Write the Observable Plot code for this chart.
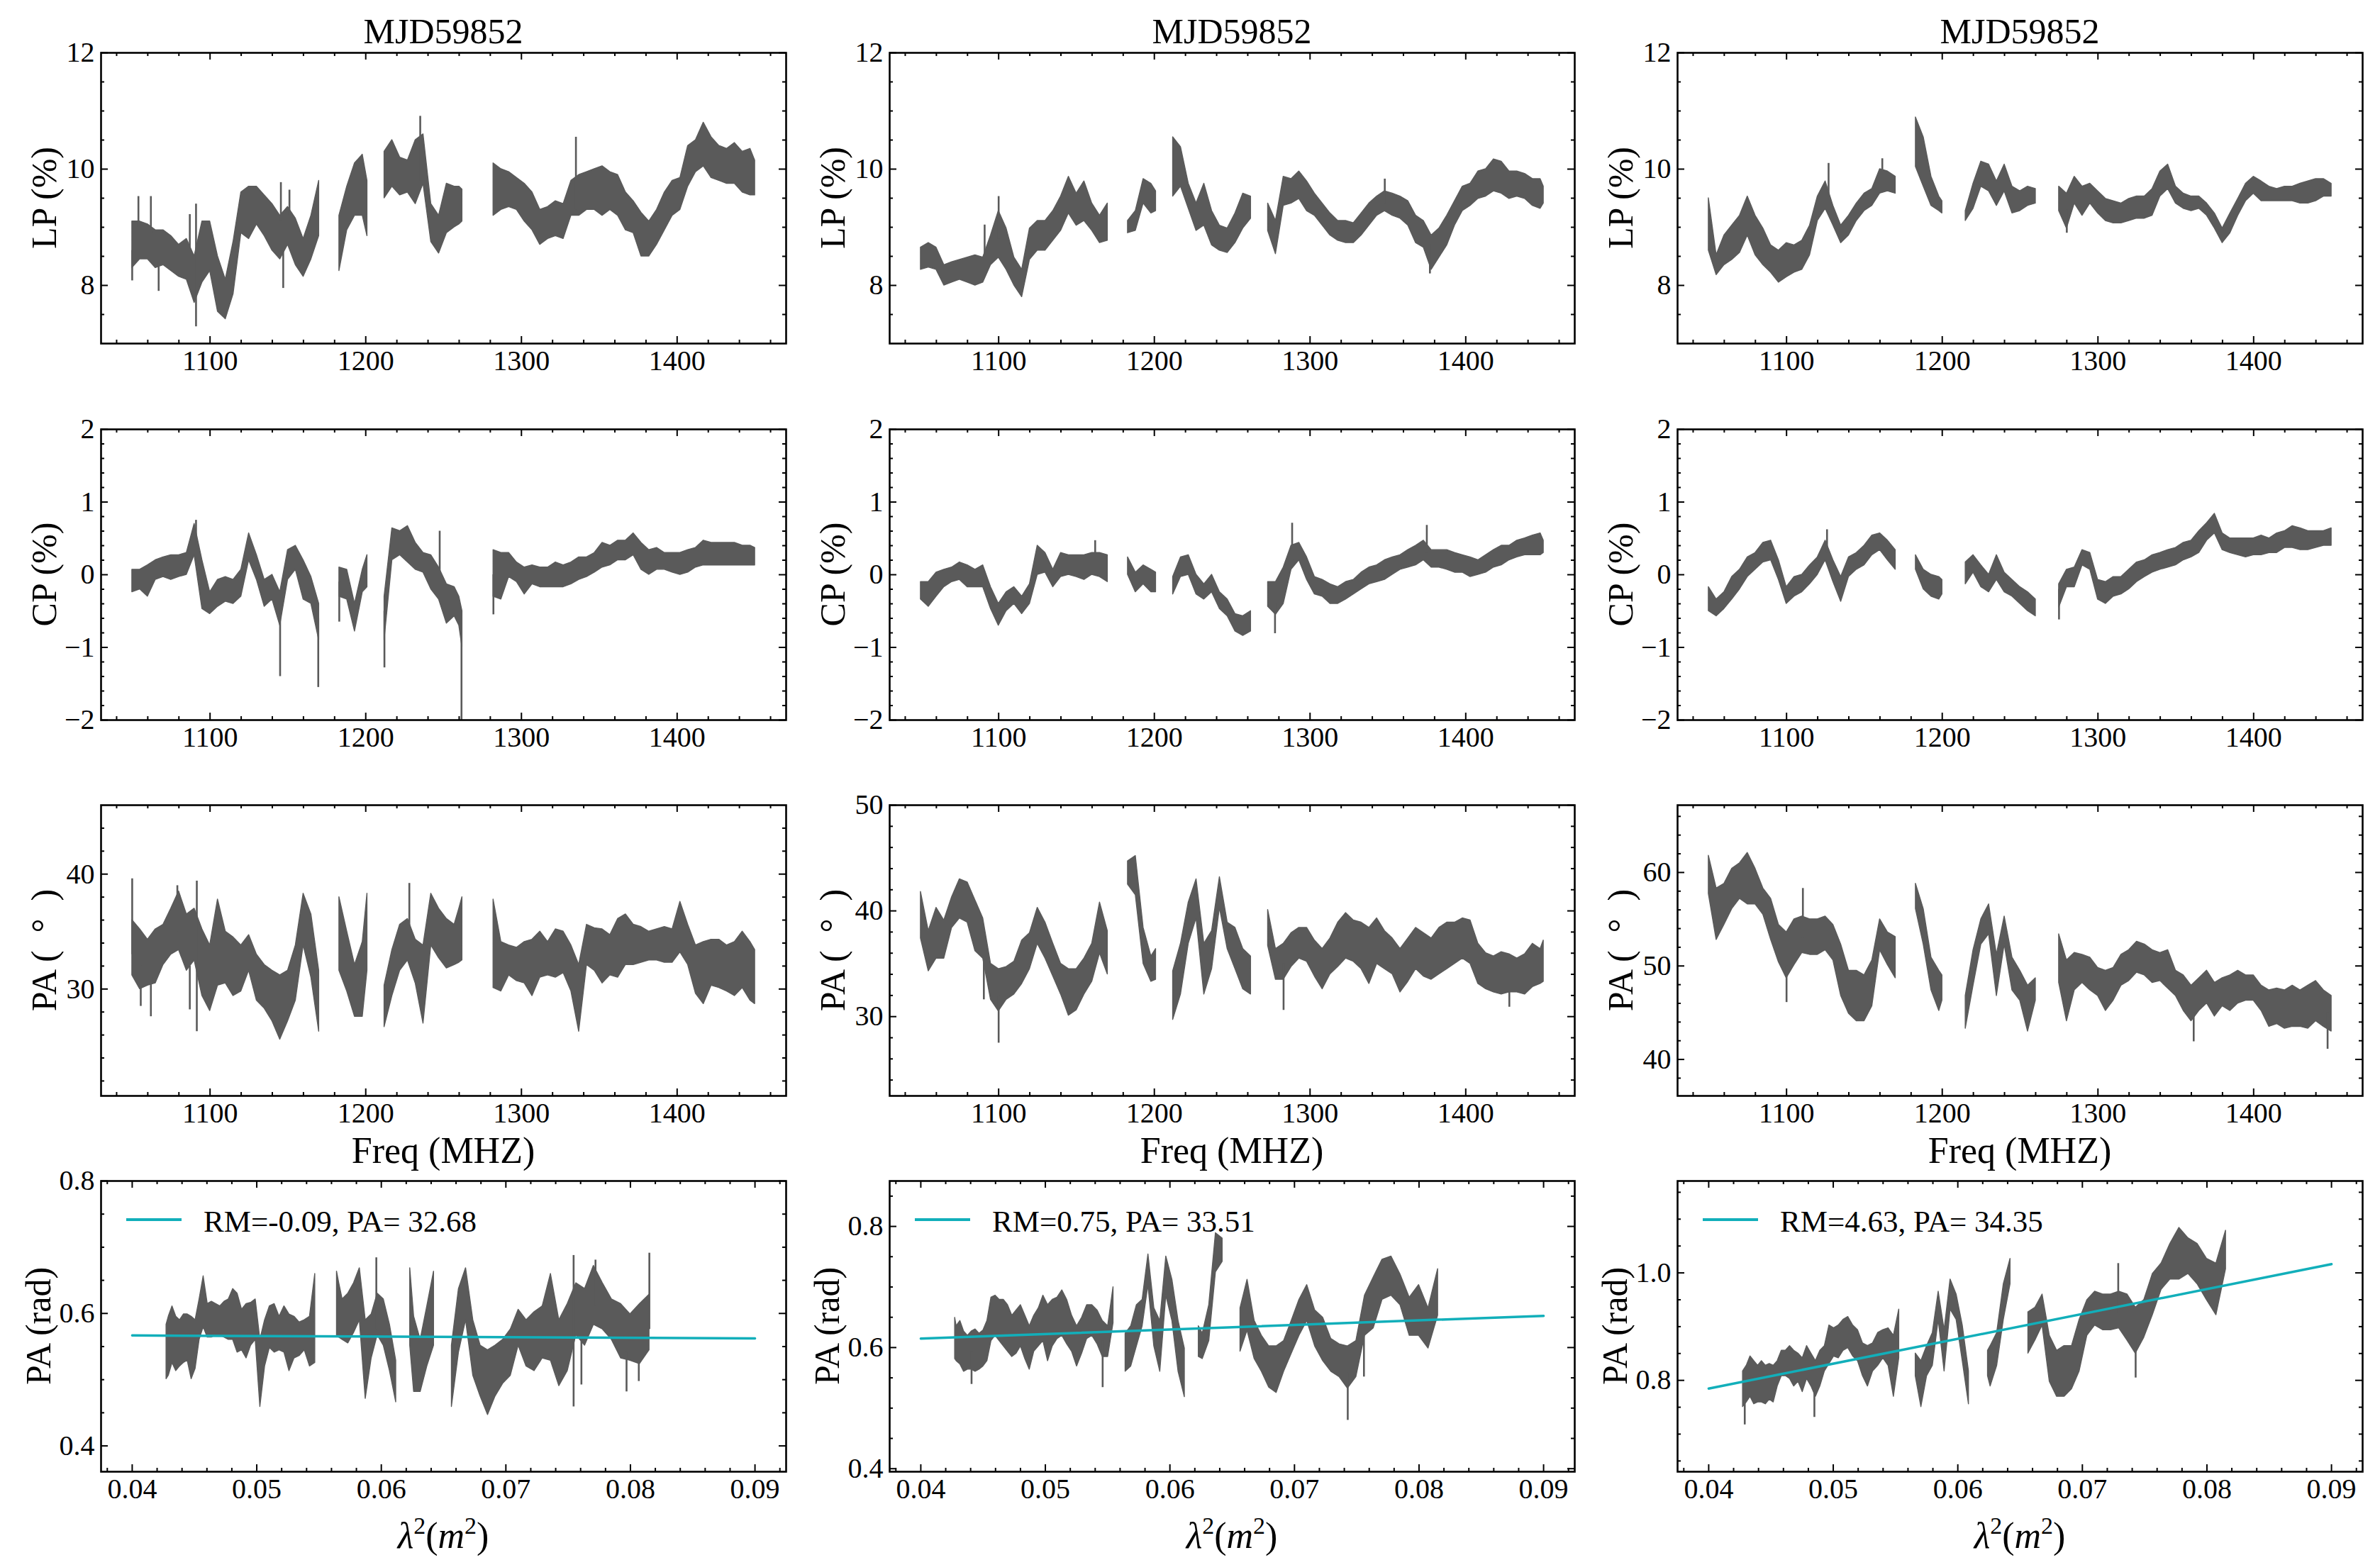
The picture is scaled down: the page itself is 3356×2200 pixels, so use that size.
<!DOCTYPE html>
<html><head><meta charset="utf-8">
<script src="https://cdn.jsdelivr.net/npm/d3@7"></script>
<script src="https://cdn.jsdelivr.net/npm/@observablehq/plot@0.6"></script>
<style>
html,body{margin:0;padding:0;background:#fff;}
#fig{position:relative;width:3356px;height:2200px;background:#fff;font-family:"Liberation Serif","DejaVu Serif","Times New Roman",serif;color:#000;overflow:hidden;}
.txt{position:absolute;white-space:nowrap;line-height:1;}
</style></head><body><div id="fig"></div>
<script>
// ---------------- DATA ----------------
const title = "MJD59852";
const fitRM = [-0.09, 0.75, 4.63];
const fitPAdeg = [32.68, 33.51, 34.35];
const fitLam2 = [0.04, 0.09];

// Column 1
const freqCol1 = [1050,1055,1060,1065,1070,1075,1080,1085,1090,1095,1100,1105,1110,1115,1120,1125,1130,1135,1140,1145,1150,1155,1160,1165,1170,
  1183,1188,1193,1198,1201,
  1212,1217,1222,1227,1232,1237,1242,1247,1252,1257,1260,1262,
  1282,1287,1292,1297,1302,1307,1312,1317,1322,1327,1332,1337,1342,1347,1352,1357,1362,1367,1372,1377,1382,1387,1392,1397,1402,1407,1412,1417,1422,1427,1432,1437,1442,1447,1450];
const lpLoCol1 = [8.3,8.45,8.45,8.3,8.35,8.25,8.15,8.1,7.7,8.05,8.25,7.55,7.42,7.85,8.9,8.8,9.05,8.85,8.6,8.45,8.7,8.35,8.15,8.45,8.85,
  8.25,8.95,9.2,9.2,8.85,
  9.5,9.7,9.55,9.6,9.4,9.75,8.75,8.55,8.9,9.0,9.05,9.1,
  9.2,9.3,9.35,9.3,9.1,8.95,8.7,8.8,8.85,8.8,9.2,9.2,9.3,9.3,9.2,9.3,9.2,8.95,8.9,8.5,8.5,8.7,8.95,9.2,9.3,9.7,9.95,10.05,9.85,9.8,9.75,9.75,9.6,9.55,9.55];
const lpHiCol1 = [9.1,9.1,9.05,8.95,8.95,8.85,8.7,8.8,8.5,9.1,9.1,8.5,8.1,8.75,9.6,9.7,9.7,9.55,9.4,9.2,9.35,9.15,8.8,9.2,9.8,
  9.2,9.7,10.1,10.25,9.8,
  10.3,10.5,10.2,10.15,10.5,10.6,9.4,9.2,9.75,9.7,9.7,9.65,
  10.1,10.0,9.95,9.85,9.75,9.6,9.3,9.35,9.45,9.4,9.8,9.9,9.95,10.0,10.05,9.95,9.9,9.6,9.45,9.25,9.1,9.3,9.6,9.8,9.85,10.4,10.5,10.8,10.55,10.4,10.35,10.45,10.3,10.35,10.15];
const lpSpikeFCol1 = [1050,1054,1062,1067,1087,1091,1145.5,1147,1151,1235,1335];
const lpSpikeLoCol1 = [8.08,9.0,8.9,7.9,8.6,7.29,9.1,7.95,9.2,9.8,9.3];
const lpSpikeHiCol1 = [8.6,9.53,9.53,8.4,9.22,9.4,9.77,8.6,9.64,10.91,10.55];

const cpLoCol1 = [-0.24,-0.2,-0.3,-0.07,-0.03,-0.07,-0.03,0.0,0.27,-0.47,-0.54,-0.44,-0.37,-0.4,-0.3,0.2,-0.07,-0.44,-0.34,-0.7,-0.07,0.07,-0.34,-0.4,-0.9,
  -0.3,-0.34,-0.78,-0.24,-0.17,
  -0.9,0.2,0.27,0.17,0.07,0.03,-0.2,-0.34,-0.67,-0.57,-0.7,-1.0,
  -0.3,-0.34,-0.03,-0.1,-0.27,-0.13,-0.17,-0.17,-0.17,-0.17,-0.13,-0.07,-0.03,0.03,0.1,0.13,0.2,0.2,0.27,0.07,0.0,0.07,0.07,0.03,0.0,0.03,0.1,0.13,0.13,0.13,0.13,0.13,0.13,0.13,0.13];
const cpHiCol1 = [0.07,0.07,0.13,0.2,0.24,0.27,0.27,0.3,0.7,0.2,-0.24,-0.07,-0.03,-0.07,0.07,0.57,0.27,-0.07,0.0,-0.24,0.34,0.4,0.2,-0.03,-0.4,
  0.1,0.07,-0.4,0.07,0.27,
  -0.3,0.64,0.6,0.67,0.44,0.3,0.27,0.1,-0.13,-0.17,-0.3,-0.5,
  0.34,0.3,0.3,0.17,0.1,0.13,0.1,0.1,0.17,0.13,0.17,0.24,0.24,0.3,0.44,0.4,0.47,0.47,0.57,0.44,0.34,0.37,0.3,0.3,0.3,0.34,0.37,0.47,0.44,0.44,0.44,0.44,0.4,0.4,0.37];
const cpSpikeFCol1 = [1091,1145,1169.5,1183,1212,1247.5,1261.5,1282];
const cpSpikeLoCol1 = [0.4,-1.4,-1.55,-0.65,-1.28,0.0,-2.0,-0.55];
const cpSpikeHiCol1 = [0.75,-0.5,-0.6,-0.1,-0.5,0.6,-0.5,0.0];

const paLoCol1 = [31.2,30,30.3,30.5,32.1,33.0,33.4,31.6,32.5,29.4,28.1,30.3,30.5,29.4,29.8,31.6,29.0,28.3,27.2,25.6,27.2,29.0,33.8,31.0,26.3,
  31.6,29.8,27.6,27.6,31.6,
  26.7,29.4,31.6,32.5,30.5,27.0,33.8,32.7,31.8,32.1,32.3,32.5,
  30.1,29.8,31.2,30.7,30.5,29.4,31.0,31.2,31.0,31.4,29.8,26.3,32.1,31.6,30.5,31.2,31.0,32.1,32.1,32.3,32.5,32.5,32.3,32.3,33.2,32.1,29.6,28.7,30.3,30.1,29.8,29.4,30.1,29.0,28.7];
const paHiCol1 = [36.0,35.2,34.3,35.2,35.6,37.0,38.5,36.5,37.0,35.2,33.8,37.8,35.0,34.5,33.8,34.7,33.0,32.1,31.6,31.2,31.6,33.8,38.3,36.5,31.6,
  38.0,35.0,32.1,34.1,38.3,
  30.3,33.4,35.6,36.1,34.3,33.8,38.3,37.0,36.1,35.6,37.0,38.0,
  37.8,34.1,33.8,33.6,34.1,34.3,35.0,34.1,35.2,35.0,33.8,32.1,35.6,35.3,35.2,34.7,36.1,36.5,35.6,35.4,35.0,35.2,35.4,35.2,37.6,35.6,33.8,34.1,34.3,34.3,33.8,34.1,35.0,34.1,33.4];
const paSpikeFCol1 = [1050,1055.5,1062,1079,1087,1091.5,1228];
const paSpikeLoCol1 = [33,28.5,27.6,35,28.2,26.3,33];
const paSpikeHiCol1 = [39.6,32,31,39.0,32,39.4,39.2];

// Column 2
const freqCol2 = [1050,1055,1060,1065,1070,1075,1080,1085,1090,1095,1100,1105,1110,1115,1120,1125,1130,1135,1140,1145,1150,1155,1160,1165,1170,
  1183,1188,1193,1198,1201,
  1212,1217,1222,1227,1232,1237,1242,1247,1252,1257,1262,
  1273,1278,1283,1288,1293,1298,1303,1308,1313,1318,1323,1328,1333,1338,1343,1348,1353,1358,1363,1368,1373,1378,1383,1388,1393,1398,1403,1408,1413,1418,1423,1428,1433,1438,1443,1448,1450];
const lpLoCol2 = [8.27,8.31,8.27,8.0,8.05,8.1,8.05,8.0,8.05,8.35,8.48,8.27,8.0,7.8,8.44,8.6,8.6,8.77,8.94,9.24,9.03,9.11,8.94,8.73,8.77,
  8.9,8.94,9.41,9.24,9.28,
  9.53,9.7,9.32,8.94,9.03,8.69,8.6,8.56,8.73,8.98,9.15,
  8.94,8.54,9.37,9.41,9.49,9.28,9.2,9.03,8.86,8.77,8.73,8.73,8.86,9.03,9.2,9.28,9.2,9.15,9.03,8.73,8.65,8.27,8.48,8.69,9.03,9.28,9.37,9.49,9.53,9.62,9.58,9.49,9.53,9.49,9.37,9.32,9.41];
const lpHiCol2 = [8.65,8.73,8.65,8.35,8.4,8.44,8.48,8.52,8.48,8.86,9.28,8.98,8.48,8.27,8.98,9.11,9.11,9.28,9.53,9.87,9.58,9.79,9.41,9.2,9.41,
  9.11,9.28,9.83,9.75,9.62,
  10.55,10.38,9.75,9.41,9.75,9.28,9.03,8.98,9.24,9.58,9.53,
  9.41,9.11,9.87,9.83,9.96,9.79,9.58,9.41,9.24,9.11,9.11,9.07,9.24,9.41,9.53,9.62,9.58,9.53,9.45,9.2,9.11,8.86,8.98,9.2,9.45,9.7,9.75,9.96,10.0,10.17,10.13,9.96,9.96,9.92,9.83,9.83,9.7];
const lpSpikeFCol2 = [1091,1100,1348,1377];
const lpSpikeLoCol2 = [8.2,8.8,9.4,8.2];
const lpSpikeHiCol2 = [9.04,9.53,9.83,8.7];

const cpLoCol2 = [-0.34,-0.44,-0.3,-0.17,-0.1,-0.07,-0.17,-0.17,-0.17,-0.47,-0.7,-0.5,-0.4,-0.54,-0.4,0.0,0.03,-0.17,-0.03,0.0,-0.03,-0.07,0.0,-0.03,-0.1,
  0.0,-0.24,-0.13,-0.24,-0.24,
  -0.27,-0.03,0.0,-0.27,-0.34,-0.24,-0.47,-0.57,-0.78,-0.84,-0.78,
  -0.44,-0.55,-0.4,0.07,0.2,-0.07,-0.27,-0.3,-0.4,-0.4,-0.34,-0.27,-0.2,-0.13,-0.1,-0.07,0.0,0.07,0.1,0.13,0.2,0.1,0.1,0.07,0.03,0.03,-0.03,0.0,0.03,0.1,0.13,0.2,0.24,0.27,0.27,0.27,0.3];
const cpHiCol2 = [-0.1,-0.1,0.03,0.07,0.1,0.17,0.13,0.07,0.13,-0.17,-0.4,-0.24,-0.17,-0.3,-0.13,0.4,0.3,0.07,0.3,0.27,0.27,0.27,0.3,0.3,0.27,
  0.24,0.03,0.13,0.07,0.03,
  -0.03,0.24,0.27,0.0,-0.13,0.0,-0.24,-0.34,-0.54,-0.57,-0.5,
  -0.1,-0.1,0.1,0.4,0.44,0.24,-0.03,-0.07,-0.13,-0.17,-0.1,-0.07,0.03,0.1,0.13,0.2,0.24,0.27,0.34,0.4,0.47,0.34,0.34,0.34,0.3,0.27,0.24,0.2,0.27,0.34,0.4,0.4,0.47,0.5,0.54,0.57,0.47];
const cpSpikeFCol2 = [1162,1277.5,1288.5,1375];
const cpSpikeLoCol2 = [0.1,-0.81,0.2,0.3];
const cpSpikeHiCol2 = [0.47,-0.4,0.71,0.68];

const paLoCol2 = [37.4,34.3,35.5,35.5,38.4,39.3,38.9,36.2,35.5,31.6,30.5,31.6,32.1,33.1,34.5,36.9,35.5,33.8,32.1,30.1,30.6,32.1,33.3,36.0,34.0,
  42.5,41.5,35.0,33.3,33.5,
  29.7,32.1,36.9,39.3,32.1,34.5,40.3,36.4,34.5,32.6,32.1,
  36.7,33.5,33.5,34.7,35.5,35.2,33.8,32.6,34.0,34.7,35.5,35.2,34.5,33.1,35.0,34.5,34.0,32.3,33.3,34.5,33.8,33.5,34.0,34.5,35.0,35.5,35.0,33.1,32.6,32.3,32.1,32.3,32.3,32.1,32.8,33.1,33.3];
const paHiCol2 = [41.8,38.1,40.3,39.1,41.3,43.0,42.7,41.0,39.3,35.0,34.5,34.7,35.2,37.2,37.9,40.3,38.9,36.9,35.0,34.5,34.5,35.5,36.9,40.8,38.1,
  44.7,45.2,38.4,35.7,36.4,
  34.3,36.9,40.8,43.0,36.9,38.1,43.2,38.9,38.4,36.4,35.7,
  40.1,36.4,36.9,37.9,38.4,38.4,37.2,36.4,37.4,38.9,39.8,39.1,38.9,38.4,39.3,38.1,37.4,36.4,37.4,38.4,37.9,37.4,38.4,38.9,38.9,39.3,39.1,36.9,36.0,35.7,36.1,35.9,35.5,35.9,36.9,36.4,37.2];
const paSpikeFCol2 = [1090.5,1100,1283,1428];
const paSpikeLoCol2 = [31.6,27.5,30.6,30.9];
const paSpikeHiCol2 = [38,32,35,34];

// Column 3
const freqCol3 = [1050,1055,1060,1065,1070,1075,1080,1085,1090,1095,1100,1105,1110,1115,1120,1125,1130,1135,1140,1145,1150,1155,1160,1165,1170,
  1183,1188,1193,1198,1200,
  1215,1220,1225,1230,1235,1240,1245,1250,1255,1260,
  1275,1280,1285,1290,1295,1300,1305,1310,1315,1320,1325,1330,1335,1340,1345,1350,1355,1360,1365,1370,1375,1380,1385,1390,1395,1400,1405,1410,1415,1420,1425,1430,1435,1440,1445,1450];
const lpLoCol3 = [8.6,8.18,8.35,8.44,8.56,8.86,8.52,8.35,8.22,8.05,8.14,8.22,8.27,8.52,9.11,9.32,9.03,8.73,8.86,9.11,9.28,9.37,9.58,9.62,9.58,
  10.04,9.7,9.37,9.28,9.24,
  9.11,9.32,9.7,9.62,9.37,9.62,9.24,9.28,9.37,9.41,
  9.28,8.98,9.41,9.2,9.41,9.24,9.11,9.07,9.07,9.11,9.15,9.15,9.2,9.53,9.66,9.41,9.32,9.28,9.32,9.2,8.98,8.73,8.9,9.2,9.45,9.58,9.45,9.45,9.45,9.45,9.45,9.41,9.41,9.45,9.53,9.53];
const lpHiCol3 = [9.5,8.52,8.86,9.03,9.2,9.53,9.2,8.98,8.69,8.6,8.73,8.69,8.77,9.03,9.53,9.79,9.37,9.03,9.2,9.41,9.58,9.66,10.0,9.96,9.87,
  10.89,10.55,9.87,9.53,9.45,
  9.28,9.75,10.13,10.08,9.79,10.08,9.7,9.62,9.7,9.66,
  9.7,9.58,9.87,9.7,9.75,9.62,9.49,9.45,9.41,9.49,9.53,9.53,9.66,9.96,10.08,9.7,9.58,9.53,9.53,9.41,9.24,8.98,9.24,9.49,9.75,9.87,9.79,9.7,9.66,9.7,9.7,9.75,9.79,9.83,9.83,9.75];
const lpSpikeFCol3 = [1127,1161.5,1280];
const lpSpikeLoCol3 = [9.5,9.7,8.9];
const lpSpikeHiCol3 = [10.1,10.18,9.3];

const cpLoCol3 = [-0.5,-0.57,-0.47,-0.34,-0.2,-0.03,0.07,0.17,0.2,-0.07,-0.4,-0.3,-0.24,-0.13,0.0,0.2,-0.1,-0.37,-0.03,0.07,0.13,0.27,0.34,0.2,0.07,
  0.07,-0.2,-0.3,-0.34,-0.27,
  -0.13,0.03,-0.17,-0.24,-0.07,-0.24,-0.3,-0.4,-0.5,-0.57,
  -0.45,-0.17,-0.17,0.13,0.07,-0.34,-0.4,-0.3,-0.27,-0.2,-0.1,-0.03,0.03,0.07,0.1,0.13,0.2,0.24,0.3,0.47,0.57,0.34,0.3,0.27,0.24,0.27,0.27,0.3,0.3,0.37,0.37,0.34,0.34,0.37,0.4,0.4];
const cpHiCol3 = [-0.17,-0.34,-0.24,-0.03,0.07,0.24,0.3,0.44,0.47,0.2,-0.17,-0.03,0.0,0.13,0.24,0.47,0.2,-0.03,0.24,0.3,0.4,0.54,0.57,0.47,0.34,
  0.27,0.07,0.0,-0.03,-0.07,
  0.17,0.27,0.13,0.0,0.27,0.03,-0.07,-0.17,-0.24,-0.34,
  -0.13,0.07,0.1,0.34,0.3,-0.07,-0.1,-0.03,-0.03,0.07,0.17,0.2,0.27,0.3,0.34,0.37,0.44,0.47,0.6,0.71,0.84,0.57,0.5,0.5,0.5,0.5,0.54,0.5,0.57,0.6,0.67,0.64,0.6,0.6,0.6,0.64];
const cpSpikeFCol3 = [1126,1275];
const cpSpikeLoCol3 = [0.3,-0.62];
const cpSpikeHiCol3 = [0.62,-0.2];

const paLoCol3 = [57.7,52.8,54.4,56.1,57.2,56.6,56.6,55.5,52.8,50.4,48.7,50.1,51.4,51.2,51.2,51.7,50.6,46.8,44.9,44.1,44.1,45.7,51.7,50.1,48.7,
  56.1,52.3,47.4,45.2,46.3,
  43.3,47.9,52.3,53.4,46.8,52.3,47.4,46.3,43.0,46.3,
  48.2,44.1,47.4,48.2,47.4,46.8,45.2,46.3,47.9,48.4,49.3,49.0,48.2,48.4,47.6,46.8,45.2,44.1,45.2,46.0,44.6,45.7,45.2,46.0,46.3,46.3,45.2,43.5,43.8,43.3,43.5,43.5,43.3,44.1,43.5,43.0];
const paHiCol3 = [61.8,58.3,58.8,60.4,61.0,62.1,60.4,58.3,57.2,54.4,53.6,55.0,55.3,55.0,55.0,55.3,54.4,52.3,49.5,49.5,49.0,50.6,55.0,53.6,53.1,
  58.8,56.1,50.9,49.5,49.0,
  46.8,51.7,55.0,56.6,51.2,55.3,50.9,49.5,47.9,48.7,
  53.4,50.6,51.4,51.2,50.9,49.8,49.5,49.8,51.2,51.7,52.6,52.3,51.7,51.4,51.7,49.5,49.0,47.9,48.7,49.5,48.2,48.7,49.0,49.5,49.0,49.0,47.9,47.4,47.6,47.4,47.9,47.4,47.9,48.4,47.4,46.8];
const paSpikeFCol3 = [1100,1110.5,1361.5,1447.5];
const paSpikeLoCol3 = [46.1,53,41.9,41.1];
const paSpikeHiCol3 = [50,58.3,45,45];

// Axis ticks / labels
const freqTicks = [1100, 1200, 1300, 1400];
const lam2Ticks = [0.04, 0.05, 0.06, 0.07, 0.08, 0.09];
const lpTicks = [8, 10, 12];
const cpTicks = [-2, -1, 0, 1, 2];
const paTicks = [[30, 40], [30, 40, 50], [40, 50, 60]];
const radTicks = [[0.4, 0.6, 0.8], [0.4, 0.6, 0.8], [0.8, 1.0]];
const paDomains = [[20.7, 46], [22.5, 50], [36.1, 67.2]];
const radDomains = [[0.361, 0.8], [0.395, 0.875], [0.63, 1.171]];
const rowLabels = ["LP (%)", "CP (%)", "PA (\u2002°\u2002)", "PA (rad)"];

// ---------------- helpers ----------------
const GRAY = "#5a5a5a", CYAN = "#12afba";
const C = 299.792458;
const COL_LEFT = [142, 1254, 2365], ROW_TOP = [74, 605, 1135, 1665];
const LABEL_OFF = [80, 80, 80, 88];
const FW = 966, FH = 410;
const ML = 130, MR = 24, MT = 24, MB = 80;
const FONT = "'Liberation Serif', 'DejaVu Serif', 'Times New Roman', serif";
const fig = document.getElementById("fig");

function segIds(freq) { let s = 0; return freq.map((f, i) => { if (i > 0 && f - freq[i - 1] > 8) s++; return s; }); }
function band(freq, lo, hi, tx = (f) => f, ty = (v) => v) {
  const s = segIds(freq);
  return freq.map((f, i) => ({x: tx(f), lo: ty(lo[i]), hi: ty(hi[i]), seg: s[i]}));
}
function spikes(freq, lo, hi, tx = (f) => f, ty = (v) => v) {
  return freq.map((f, i) => ({x: tx(f), lo: ty(lo[i]), hi: ty(hi[i])}));
}
function ticksIn(step, dom) {
  const a = Math.ceil(dom[0] / step - 1e-9), b = Math.floor(dom[1] / step + 1e-9);
  return d3.range(a, b + 1).map((i) => +(i * step).toFixed(6));
}
const minus = (v) => (v < 0 ? "\u2212" + Math.abs(v) : String(v));

function panel(o) {
  const {col, row, xDomain, yDomain, xMajor, xMinorStep, yMajor, yMinorStep, xFmt, yFmt, data, spk, fit} = o;
  const notMajor = (maj) => (v) => !maj.some((m) => Math.abs(m - v) < 1e-9);
  const xMinor = ticksIn(xMinorStep, xDomain).filter(notMajor(xMajor));
  const yMinor = ticksIn(yMinorStep, yDomain).filter(notMajor(yMajor)).filter((v) => v > yDomain[0] + 1e-9 && v < yDomain[1] - 1e-9);
  const MAJ = 10, MIN = 5, TW = 2;
  const marks = [
    Plot.areaY(data, {x: "x", y1: "lo", y2: "hi", z: "seg", fill: GRAY, stroke: GRAY, strokeWidth: 1.4, clip: true}),
    Plot.ruleX(spk, {x: "x", y1: "lo", y2: "hi", stroke: GRAY, strokeWidth: 2.6, clip: true})
  ];
  if (fit) marks.push(Plot.line(fit, {x: "x", y: "y", stroke: CYAN, strokeWidth: 3.5}));
  marks.push(
    Plot.tickX(xMajor, {x: (d) => d, insetTop: FH - MAJ, strokeWidth: TW}),
    Plot.tickX(xMajor, {x: (d) => d, insetBottom: FH - MAJ, strokeWidth: TW}),
    Plot.tickX(xMinor, {x: (d) => d, insetTop: FH - MIN, strokeWidth: TW}),
    Plot.tickX(xMinor, {x: (d) => d, insetBottom: FH - MIN, strokeWidth: TW}),
    Plot.tickY(yMajor, {y: (d) => d, insetRight: FW - MAJ, strokeWidth: TW}),
    Plot.tickY(yMajor, {y: (d) => d, insetLeft: FW - MAJ, strokeWidth: TW}),
    Plot.tickY(yMinor, {y: (d) => d, insetRight: FW - MIN, strokeWidth: TW}),
    Plot.tickY(yMinor, {y: (d) => d, insetLeft: FW - MIN, strokeWidth: TW}),
    Plot.axisX({ticks: xMajor, tickSize: 0, tickPadding: 9, tickFormat: xFmt, label: null, fontFamily: FONT}),
    Plot.axisY({ticks: yMajor, tickSize: 0, tickPadding: 9, tickFormat: yFmt, label: null, fontFamily: FONT}),
    Plot.frame({stroke: "#000", strokeWidth: 2.6})
  );
  const svg = Plot.plot({
    width: FW + ML + MR, height: FH + MT + MB,
    marginLeft: ML, marginRight: MR, marginTop: MT, marginBottom: MB,
    x: {domain: xDomain}, y: {domain: yDomain},
    style: {fontFamily: FONT, fontSize: "40px", background: "transparent", overflow: "visible", color: "#000"},
    marks
  });
  svg.style.position = "absolute";
  svg.style.left = (COL_LEFT[col] - ML) + "px";
  svg.style.top = (ROW_TOP[row] - MT) + "px";
  svg.style.maxWidth = "none";
  fig.appendChild(svg);
}

function text(html, cx, cy, size, rotate = false, anchor = "center") {
  const d = document.createElement("div");
  d.className = "txt";
  d.innerHTML = html;
  d.style.fontSize = size + "px";
  d.style.left = cx + "px";
  d.style.top = cy + "px";
  const tx = anchor === "left" ? "0" : "-50%";
  d.style.transform = `translate(${tx},-50%)` + (rotate ? " rotate(-90deg)" : "");
  fig.appendChild(d);
}

// ---------------- build ----------------
const freqs = [freqCol1, freqCol2, freqCol3];
const lp = [[lpLoCol1, lpHiCol1, lpSpikeFCol1, lpSpikeLoCol1, lpSpikeHiCol1],
            [lpLoCol2, lpHiCol2, lpSpikeFCol2, lpSpikeLoCol2, lpSpikeHiCol2],
            [lpLoCol3, lpHiCol3, lpSpikeFCol3, lpSpikeLoCol3, lpSpikeHiCol3]];
const cp = [[cpLoCol1, cpHiCol1, cpSpikeFCol1, cpSpikeLoCol1, cpSpikeHiCol1],
            [cpLoCol2, cpHiCol2, cpSpikeFCol2, cpSpikeLoCol2, cpSpikeHiCol2],
            [cpLoCol3, cpHiCol3, cpSpikeFCol3, cpSpikeLoCol3, cpSpikeHiCol3]];
const pa = [[paLoCol1, paHiCol1, paSpikeFCol1, paSpikeLoCol1, paSpikeHiCol1],
            [paLoCol2, paHiCol2, paSpikeFCol2, paSpikeLoCol2, paSpikeHiCol2],
            [paLoCol3, paHiCol3, paSpikeFCol3, paSpikeLoCol3, paSpikeHiCol3]];
const toLam2 = (f) => (C / f) ** 2;
const toRad = (v) => (v * Math.PI) / 180;
const freqDomain = [1030, 1470];
const lamDomain = [0.0375, 0.0925];

for (let c = 0; c < 3; c++) {
  const F = freqs[c];
  const common = {col: c, xDomain: freqDomain, xMajor: freqTicks, xMinorStep: 20, xFmt: (d) => String(d)};
  panel({...common, row: 0, yDomain: [7, 12], yMajor: lpTicks, yMinorStep: 0.5, yFmt: minus,
    data: band(F, lp[c][0], lp[c][1]), spk: spikes(lp[c][2], lp[c][3], lp[c][4])});
  panel({...common, row: 1, yDomain: [-2, 2], yMajor: cpTicks, yMinorStep: 0.2, yFmt: minus,
    data: band(F, cp[c][0], cp[c][1]), spk: spikes(cp[c][2], cp[c][3], cp[c][4])});
  panel({...common, row: 2, yDomain: paDomains[c], yMajor: paTicks[c], yMinorStep: 2, yFmt: minus,
    data: band(F, pa[c][0], pa[c][1]), spk: spikes(pa[c][2], pa[c][3], pa[c][4])});
  const fit = fitLam2.map((l) => ({x: l, y: toRad(fitPAdeg[c]) + fitRM[c] * l}));
  panel({col: c, row: 3, xDomain: lamDomain, xMajor: lam2Ticks, xMinorStep: 0.002, xFmt: d3.format(".2f"),
    yDomain: radDomains[c], yMajor: radTicks[c], yMinorStep: 0.05, yFmt: d3.format(".1f"),
    data: band(F, pa[c][0], pa[c][1], toLam2, toRad), spk: spikes(pa[c][2], pa[c][3], pa[c][4], toLam2, toRad), fit});

  const cx = COL_LEFT[c] + FW / 2;
  text(title, cx, 44, 50);
  for (let r = 0; r < 4; r++) text(rowLabels[r], COL_LEFT[c] - LABEL_OFF[r], ROW_TOP[r] + FH / 2, 50, true);
  text("Freq (MHZ)", cx, ROW_TOP[2] + FH + 78, 52);
  text("<i>λ</i><sup style='font-size:34px;vertical-align:20px'>2</sup>(<i>m</i><sup style='font-size:34px;vertical-align:20px'>2</sup>)", cx, ROW_TOP[3] + FH + 88, 52);
  // legend
  const lg = document.createElement("div");
  lg.style.cssText = `position:absolute;left:${COL_LEFT[c] + 36}px;top:${ROW_TOP[3] + 53}px;width:78px;height:4px;background:${CYAN};`;
  fig.appendChild(lg);
  text(`RM=${fitRM[c]}, PA= ${fitPAdeg[c].toFixed(2)}`, COL_LEFT[c] + 145, ROW_TOP[3] + 57, 43, false, "left");
}
</script>
</body></html>
